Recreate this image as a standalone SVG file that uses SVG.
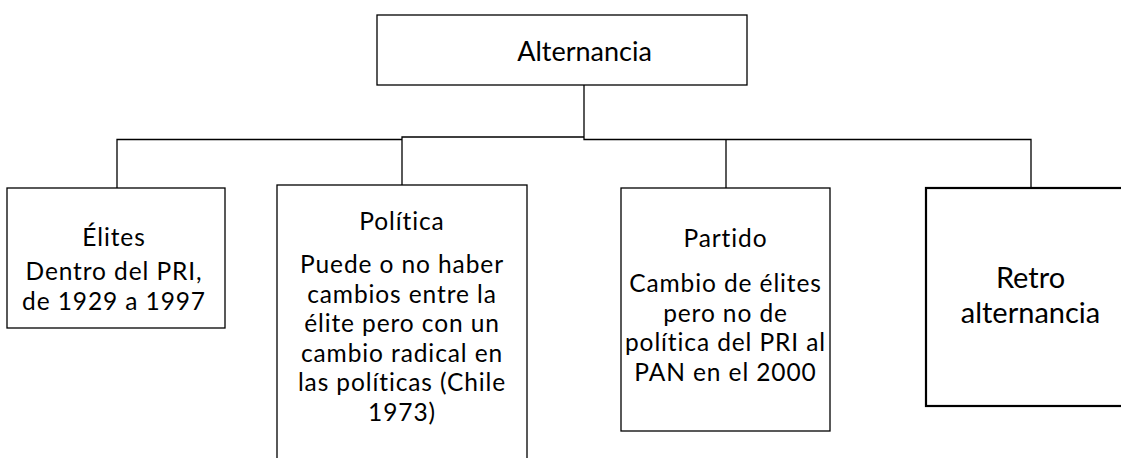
<svg xmlns="http://www.w3.org/2000/svg" width="1121" height="458" viewBox="0 0 1121 458">
<style>
.box{fill:#fff;stroke:#000;stroke-width:1.3}
.thick{stroke-width:2.2}
.t{font-family:Lato,"Open Sans","Liberation Sans",sans-serif;font-size:24.5px;letter-spacing:0.9px;fill:#000;text-anchor:middle}
.head{font-size:27px;letter-spacing:0}
.big{font-size:29px;letter-spacing:0}
.conn{fill:none;stroke:#000;stroke-width:1.3}
</style>
<rect width="1121" height="458" fill="#fff"/>
<g id="connectors">
<path class="conn" d="M117,188 V139.5 H402"/>
<path class="conn" d="M402,185 V137 H584"/>
<path class="conn" d="M584,85 V139.5 H1031 V188"/>
<path class="conn" d="M726,139.5 V188"/>
</g>
<g id="alternancia">
<rect class="box" x="377" y="15" width="370" height="70"/>
<text class="t head" x="584.5" y="61">Alternancia</text>
</g>
<g id="elites">
<rect class="box" x="7" y="188" width="218" height="140"/>
<text class="t" x="114" y="246">Élites</text>
<text class="t" x="114" y="280">Dentro del PRI,</text>
<text class="t" x="114" y="310">de 1929 a 1997</text>
</g>
<g id="politica">
<rect class="box" x="277" y="185" width="250" height="290"/>
<text class="t" x="402" y="230">Política</text>
<text class="t" x="402" y="273">Puede o no haber</text>
<text class="t" x="402" y="302.5">cambios entre la</text>
<text class="t" x="402" y="332">élite pero con un</text>
<text class="t" x="402" y="361.5">cambio radical en</text>
<text class="t" x="402" y="391">las políticas (Chile</text>
<text class="t" x="402" y="420.5">1973)</text>
</g>
<g id="partido">
<rect class="box" x="621" y="188" width="209" height="243"/>
<text class="t" x="725.5" y="247">Partido</text>
<text class="t" x="725.5" y="292">Cambio de élites</text>
<text class="t" x="725.5" y="321.5">pero no de</text>
<text class="t" x="725.5" y="351">política del PRI al</text>
<text class="t" x="725.5" y="380.5">PAN en el 2000</text>
</g>
<g id="retro">
<rect class="box thick" x="926" y="188" width="220" height="218"/>
<text class="t big" x="1030.5" y="288">Retro</text>
<text class="t big" x="1030.5" y="323">alternancia</text>
</g>
</svg>
